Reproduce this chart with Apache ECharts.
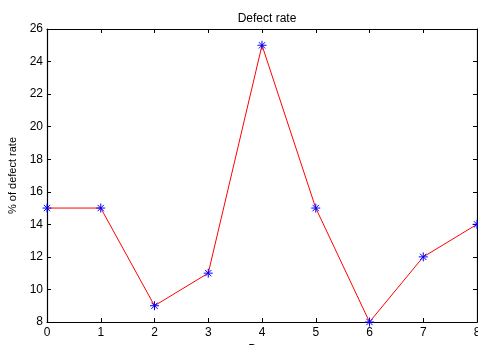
<!DOCTYPE html>
<html>
<head>
<meta charset="utf-8">
<script src="https://cdn.jsdelivr.net/npm/echarts@6/dist/echarts.min.js"></script>
<style>
  html, body { margin: 0; padding: 0; background: #fff; }
  #main { width: 478px; height: 345px; }
</style>
</head>
<body>
<div id="main"></div>
<script>
// data
var days = [0, 1, 2, 3, 4, 5, 6, 7, 8];
var defectRate = [15, 15, 9, 11, 25, 15, 8, 12, 14];

var chart = echarts.init(document.getElementById('main'));
var fontName = 'Liberation Sans, Arial, sans-serif';
var pts = days.map(function (d, i) { return [d, defectRate[i]]; });

// matlab style box: ticks inside on all four sides
function xAx(pos, showLabel) {
    return {
        type: 'value', position: pos, min: 0, max: 8, interval: 1,
        axisLine: { show: true, onZero: false, lineStyle: { color: '#000', width: 1.2 } },
        axisTick: { show: true, inside: true, length: 4, lineStyle: { color: '#000' } },
        axisLabel: { show: showLabel, color: '#000', fontSize: 12, fontFamily: fontName, margin: 5 },
        splitLine: { show: false }
    };
}
function yAx(pos, showLabel) {
    return {
        type: 'value', position: pos, min: 8, max: 26, interval: 2,
        axisLine: { show: true, onZero: false, lineStyle: { color: '#000', width: 1.2 } },
        axisTick: { show: true, inside: true, length: 4, lineStyle: { color: '#000' } },
        axisLabel: { show: showLabel, color: '#000', fontSize: 12, fontFamily: fontName, margin: 4 },
        splitLine: { show: false }
    };
}

var xBottom = xAx('bottom', true);
xBottom.name = 'Days';
xBottom.nameLocation = 'middle';
xBottom.nameGap = 22;
xBottom.nameTextStyle = { color: '#000', fontSize: 12, fontFamily: fontName };

var yLeft = yAx('left', true);
yLeft.name = '% of defect rate';
yLeft.nameLocation = 'middle';
yLeft.nameGap = 25;
yLeft.nameTextStyle = { color: '#000', fontSize: 11, fontFamily: fontName };

chart.setOption({
    animation: false,
    title: {
        text: 'Defect rate', left: 262, top: 8, textAlign: 'center',
        textStyle: { color: '#000', fontSize: 12, fontWeight: 'normal', fontFamily: fontName }
    },
    grid: { left: 47, right: 1, top: 29, bottom: 23, outerBoundsMode: 'none', containLabel: false },
    xAxis: [xBottom, xAx('top', false)],
    yAxis: [yLeft, yAx('right', false)],
    series: [{
        type: 'line',
        data: pts,
        lineStyle: { color: '#ff0000', width: 1 },
        symbol: 'path://M0,-5L0,5M-5,0L5,0M-3.5,-3.5L3.5,3.5M-3.5,3.5L3.5,-3.5',
        symbolSize: 9,
        showSymbol: true,
        itemStyle: { color: 'none', borderColor: '#0000ff', borderWidth: 1 },
        clip: false
    }]
});
</script>
</body>
</html>
